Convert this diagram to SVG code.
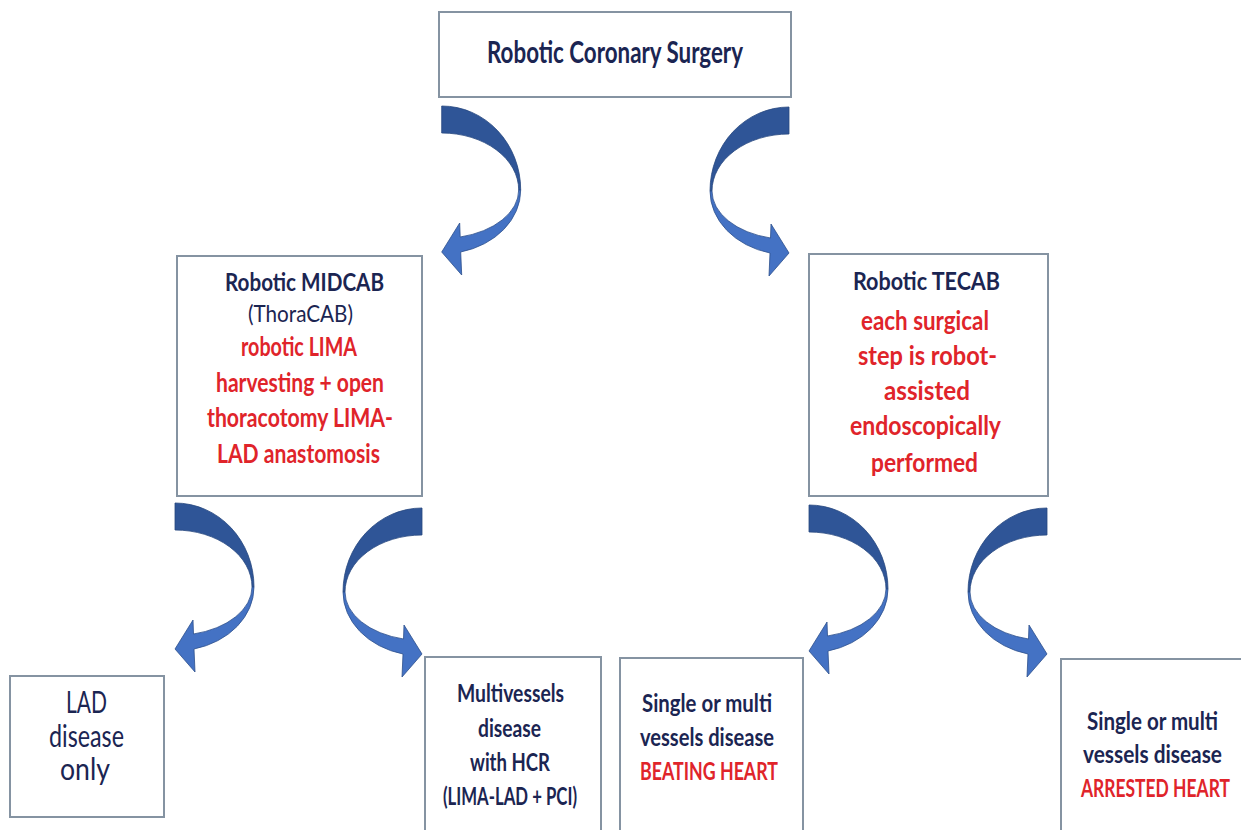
<svg xmlns="http://www.w3.org/2000/svg" width="1241" height="830" viewBox="0 0 1241 830">
<style>
.box{fill:#ffffff;stroke:#8593a2;stroke-width:2}
.t{font-family:Lato,"Liberation Sans",sans-serif;text-anchor:middle}
.nb{fill:#1b2552;font-weight:bold}
.nr{fill:#1b2552;font-weight:normal}
.rb{fill:#e0242a;font-weight:bold}
.dk{fill:#2f5597;stroke:#27477f;stroke-width:0.8;stroke-linejoin:round}
.lt{fill:#4472c4;stroke:#2c4f8c;stroke-width:0.8;stroke-linejoin:round}
</style>
<defs>
<g id="curve-arrow">
<path class="dk" d="M0,0 A79,84 0 0 1 79,84 L77,84 A77,57 0 0 0 0,27 Z"/>
<path class="lt" d="M79,84 A79,64 0 0 1 19,146 L20,169 L0,146 L18,117 L18.5,131 A77,48.4 0 0 0 77,84 Z"/>
</g>
</defs>
<rect width="1241" height="830" fill="#ffffff"/>
<g id="connectors">
<use href="#curve-arrow" transform="translate(441.7,106)"/>
<use href="#curve-arrow" transform="translate(789,107) scale(-1,1)"/>
<use href="#curve-arrow" transform="translate(175,503)"/>
<use href="#curve-arrow" transform="translate(422,508) scale(-1,1)"/>
<use href="#curve-arrow" transform="translate(809,505)"/>
<use href="#curve-arrow" transform="translate(1047,508) scale(-1,1)"/>
</g>
<g id="node-root">
<rect class="box" x="439" y="12" width="352" height="85"/>
<text class="t nb" x="615" y="63" font-size="30" textLength="256" lengthAdjust="spacingAndGlyphs">Robotic Coronary Surgery</text>
</g>
<g id="node-midcab">
<rect class="box" x="177" y="256" width="245" height="240"/>
<text class="t nb" x="304.5" y="290.5" font-size="24" textLength="159" lengthAdjust="spacingAndGlyphs">Robotic MIDCAB</text>
<text class="t nr" x="300.5" y="322" font-size="24" textLength="105" lengthAdjust="spacingAndGlyphs">(ThoraCAB)</text>
<text class="t rb" x="299" y="356" font-size="26" textLength="116" lengthAdjust="spacingAndGlyphs">robotic LIMA</text>
<text class="t rb" x="300" y="391.5" font-size="26" textLength="168" lengthAdjust="spacingAndGlyphs">harvesting + open</text>
<text class="t rb" x="300" y="427" font-size="26" textLength="186" lengthAdjust="spacingAndGlyphs">thoracotomy LIMA-</text>
<text class="t rb" x="298.5" y="462.5" font-size="26" textLength="163" lengthAdjust="spacingAndGlyphs">LAD anastomosis</text>
</g>
<g id="node-tecab">
<rect class="box" x="809" y="254" width="239" height="242"/>
<text class="t nb" x="926.5" y="290" font-size="24" textLength="147" lengthAdjust="spacingAndGlyphs">Robotic TECAB</text>
<text class="t rb" x="925" y="330" font-size="26" textLength="128" lengthAdjust="spacingAndGlyphs">each surgical</text>
<text class="t rb" x="927.5" y="365" font-size="26" textLength="139" lengthAdjust="spacingAndGlyphs">step is robot-</text>
<text class="t rb" x="927" y="400" font-size="26" textLength="86" lengthAdjust="spacingAndGlyphs">assisted</text>
<text class="t rb" x="925.5" y="435" font-size="26" textLength="151" lengthAdjust="spacingAndGlyphs">endoscopically</text>
<text class="t rb" x="924.5" y="472" font-size="26" textLength="107" lengthAdjust="spacingAndGlyphs">performed</text>
</g>
<g id="node-lad">
<rect class="box" x="10" y="676" width="154" height="141"/>
<text class="t nr" x="86.5" y="713" font-size="30" textLength="41" lengthAdjust="spacingAndGlyphs">LAD</text>
<text class="t nr" x="86.5" y="747" font-size="30" textLength="75" lengthAdjust="spacingAndGlyphs">disease</text>
<text class="t nr" x="85" y="780" font-size="30" textLength="50" lengthAdjust="spacingAndGlyphs">only</text>
</g>
<g id="node-hcr">
<path class="box" d="M425,830 V657 H601 V830"/>
<text class="t nb" x="510.5" y="702" font-size="25" textLength="107" lengthAdjust="spacingAndGlyphs">Multivessels</text>
<text class="t nb" x="509.5" y="737" font-size="25" textLength="63" lengthAdjust="spacingAndGlyphs">disease</text>
<text class="t nb" x="510" y="771" font-size="25" textLength="80" lengthAdjust="spacingAndGlyphs">with HCR</text>
<text class="t nb" x="510" y="805" font-size="25" textLength="134" lengthAdjust="spacingAndGlyphs">(LIMA-LAD + PCI)</text>
</g>
<g id="node-beating">
<path class="box" d="M620,830 V658 H803 V830"/>
<text class="t nb" x="707" y="712" font-size="24" textLength="130" lengthAdjust="spacingAndGlyphs">Single or multi</text>
<text class="t nb" x="707" y="746" font-size="24" textLength="134" lengthAdjust="spacingAndGlyphs">vessels disease</text>
<text class="t rb" x="709" y="780" font-size="24" textLength="138" lengthAdjust="spacingAndGlyphs">BEATING HEART</text>
</g>
<g id="node-arrested">
<path class="box" d="M1061,830 V659 H1241"/>
<text class="t nb" x="1152.5" y="730" font-size="24" textLength="131" lengthAdjust="spacingAndGlyphs">Single or multi</text>
<text class="t nb" x="1152.5" y="763" font-size="24" textLength="139" lengthAdjust="spacingAndGlyphs">vessels disease</text>
<text class="t rb" x="1155.5" y="797" font-size="24" textLength="149" lengthAdjust="spacingAndGlyphs">ARRESTED HEART</text>
</g>
</svg>
